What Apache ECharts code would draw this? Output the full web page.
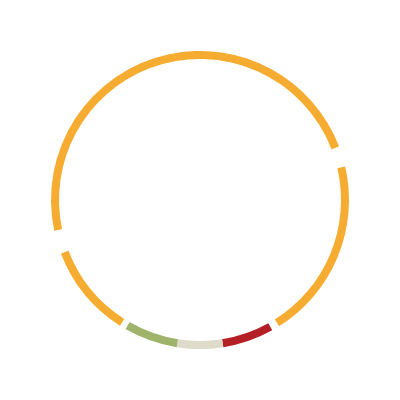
<!DOCTYPE html>
<html>
<head>
    <meta charset="utf-8">
    <title>ring</title>
    <script src="https://cdn.jsdelivr.net/npm/echarts@6/dist/echarts.min.js"></script>
    <style type="text/css">
        * {
            margin: 0px;
            padding: 0px;
        }

        #main {
            position: absolute;
            width: 400px;
            height: 400px;
            background: #ffffff;
        }
    </style>
</head>
<body>
<div id="main"></div>
<script type="text/javascript">
    // 各段（按顺时针，从左侧缺口结束处开始）
    var segNames = ['o1', 'gap1', 'o2', 'gap2', 'red', 'beige', 'green', 'gap3', 'o3', 'gap4'];
    var segValues = [171, 8, 71, 3, 20, 18, 21, 2.5, 36.5, 9];
    var segColors = ['#F5AC30', '#ffffff', '#F5AC30', '#ffffff', '#B32025', '#DEDBCB', '#9DB46A', '#ffffff', '#F5AC30', '#ffffff'];

    var myChart = echarts.init(document.getElementById('main'));

    var pieData = [];
    for (var i = 0; i < segNames.length; i++) {
        pieData.push({
            name: segNames[i],
            value: segValues[i],
            itemStyle: {color: segColors[i]}
        });
    }

    var option = {
        animation: false,
        series: [{
            type: 'pie',
            silent: true,
            center: [200, 200],
            radius: [141, 149],
            startAngle: 192,
            clockwise: true,
            label: {show: false},
            labelLine: {show: false},
            emphasis: {disabled: true},
            itemStyle: {borderWidth: 0},
            data: pieData
        }]
    };

    myChart.setOption(option);
</script>
</body>
</html>
